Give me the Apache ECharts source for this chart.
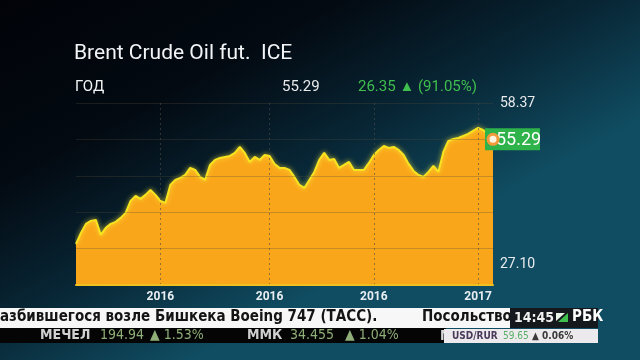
<!DOCTYPE html>
<html>
<head>
<meta charset="utf-8">
<script src="https://cdn.jsdelivr.net/npm/echarts@6/dist/echarts.min.js"></script>
<style>
  html, body { margin: 0; padding: 0; background: #02040a; }
  #main { width: 640px; height: 360px; }
</style>
</head>
<body>
<div id="main"></div>
<script>
// Brent, one year of closes (left to right)
var prices = [
    27.10, 30.06, 32.49, 33.30, 33.57, 29.53, 31.41, 32.49, 33.03, 34.11,
    35.46, 38.69, 40.04, 39.23, 40.31, 41.66, 40.31, 38.69, 38.15, 43.00,
    44.35, 44.89, 45.70, 47.59, 47.05, 45.16, 44.35, 48.39, 49.74, 50.28,
    50.55, 50.82, 51.63, 53.25, 51.63, 49.20, 50.55, 49.74, 51.09, 50.82,
    48.66, 47.59, 47.59, 47.05, 45.16, 43.00, 42.19, 44.35, 46.51, 49.74,
    51.63, 49.74, 50.01, 47.59, 48.39, 49.20, 47.05, 47.05, 47.05, 48.93,
    51.09, 52.44, 53.52, 52.98, 53.25, 52.44, 51.09, 48.66, 46.78, 45.70,
    45.16, 46.51, 48.12, 46.51, 51.90, 54.86, 55.40, 55.67, 56.21, 56.75,
    57.56, 58.37, 57.83, 56.75, 55.29
];

// подписи оси: только там, где на картинке стоит год
var yearLabels = { 17: '2016', 39: '2016', 60: '2016', 81: '2017' };
var categories = prices.map(function(p, i) { return yearLabels[i] || ''; });

var lastPrice = 55.29;
var changeAbs = '26.35';
var changePct = '(91.05%)';
var title = 'Brent Crude Oil fut.  ICE';
var period = 'ГОД';

var tickerNews = 'азбившегося возле Бишкека Boeing 747 (ТАСС).';
var tickerNext = 'Посольство';
var clock = '14:45';
var stockNames = ['МЕЧЕЛ', 'ММК'];
var stockPrices = ['194.94', '34.455'];
var stockChanges = ['▲ 1.53%', '▲ 1.04%'];
var fx = ['USD/RUR', '59.65', '▲ 0.06%'];

var chart = echarts.init(document.getElementById('main'));

var maxPrice = Math.max.apply(null, prices);
var minPrice = Math.min.apply(null, prices);
var lastIdx = prices.length - 1;

var font = 'Roboto, "Noto Sans", sans-serif';
var narrow = '"Liberation Sans Narrow", "DejaVu Sans Condensed", "Noto Sans", sans-serif';

function showYear(i, v) { return v !== ''; }

var option = {
    animation: false,
    backgroundColor: {
        type: 'linear', x: 0, y: 0, x2: 0.3, y2: 1,
        colorStops: [
            { offset: 0, color: '#010308' },
            { offset: 0.4, color: '#030a12' },
            { offset: 0.7, color: '#082635' },
            { offset: 1, color: '#104d62' }
        ]
    },
    grid: { left: 76, right: 147, top: 103, bottom: 75 },
    xAxis: {
        type: 'category',
        data: categories,
        boundaryGap: false,
        z: 3,
        axisTick: { show: false },
        axisLine: { lineStyle: { color: '#f0c020', width: 2 } },
        axisLabel: {
            interval: showYear,
            color: '#e8eef2',
            fontFamily: font,
            fontSize: 12,
            fontWeight: 'bold',
            margin: 6
        },
        splitLine: {
            show: true,
            interval: showYear,
            lineStyle: { color: 'rgba(80,75,70,0.6)', type: [2, 3], width: 1 }
        }
    },
    yAxis: {
        type: 'value',
        min: 16,
        max: 65.1,
        interval: 9.82,
        z: 3,
        axisLabel: { show: false },
        axisLine: { show: false },
        axisTick: { show: false },
        splitLine: { lineStyle: { color: 'rgba(85,75,55,0.3)', width: 1 } }
    },
    series: [{
        type: 'line',
        data: prices,
        z: 2,
        symbol: 'none',
        smooth: false,
        lineStyle: {
            color: '#f8e41e', width: 2,
            shadowColor: 'rgba(255,235,60,0.9)', shadowBlur: 5
        },
        areaStyle: { color: '#f9a61a', opacity: 1 },
        markPoint: {
            z: 6,
            silent: true,
            data: [{
                coord: [lastIdx, lastPrice],
                symbol: 'circle',
                symbolSize: 10,
                itemStyle: { color: '#fff4e0', borderColor: '#f39a3a', borderWidth: 3 },
                label: { show: false }
            }]
        }
    }],
    graphic: []
};

chart.setOption(option);

// зелёная плашка с последней ценой, к точке данных
var pt = chart.convertToPixel({ seriesIndex: 0 }, [lastIdx, lastPrice]);

var g = [
    // заголовок
    { type: 'text', left: 74, top: 43, style: { text: title, fill: '#f2f4f6', font: '21px ' + font } },
    { type: 'text', left: 75, top: 80, style: { text: period, fill: '#f2f4f6', font: '15px ' + font } },
    { type: 'text', left: 282, top: 80, style: { text: String(lastPrice), fill: '#e8eaec', font: '15px ' + font } },
    { type: 'text', left: 358, top: 80, style: { text: changeAbs + ' ▲ ' + changePct, fill: '#3fbf4e', font: '15px ' + font } },
    // макс / мин справа
    { type: 'text', left: 500, top: 96, style: { text: maxPrice.toFixed(2), fill: '#e8eaec', font: '14px ' + font } },
    { type: 'text', left: 500, top: 257, style: { text: minPrice.toFixed(2), fill: '#e8eaec', font: '14px ' + font } },
    {
        type: 'rect', z: 4,
        shape: { x: pt[0] - 8, y: pt[1] - 11, width: 55, height: 22 },
        style: { fill: '#2eb24a' }
    },
    {
        type: 'text', z: 5, x: pt[0] + 3, y: pt[1] + 1,
        style: { text: lastPrice.toFixed(2), fill: '#ffffff', font: '18px ' + font, textVerticalAlign: 'middle' }
    },

    // бегущая строка
    { type: 'rect', z: 7, shape: { x: 0, y: 308, width: 512, height: 20 }, style: { fill: '#f7f7f7' } },
    { type: 'text', z: 8, left: 0, top: 310, style: { text: tickerNews, fill: '#141414', font: 'bold 15px ' + narrow } },
    { type: 'text', z: 8, left: 422, top: 310, style: { text: tickerNext, fill: '#141414', font: 'bold 15px ' + narrow } },
    { type: 'rect', z: 9, shape: { x: 510, y: 308, width: 88, height: 20 }, style: { fill: '#15181c' } },
    { type: 'text', z: 10, left: 514, top: 311, style: { text: clock, fill: '#f0f0f0', font: 'bold 14px ' + narrow } },
    { type: 'polygon', z: 10, shape: { points: [[558, 322], [568, 313], [568, 322]] }, style: { fill: '#3fbf4e' } },
    { type: 'polygon', z: 10, shape: { points: [[556, 321], [556, 313], [565, 313]] }, style: { fill: '#e8f5e8' } },
    { type: 'text', z: 10, left: 572, top: 310, style: { text: 'РБК', fill: '#ffffff', font: 'bold 15px ' + narrow } },

    { type: 'rect', z: 7, shape: { x: 0, y: 328, width: 446, height: 15 }, style: { fill: '#050505' } },
    { type: 'text', z: 8, left: 440, top: 329, style: { text: 'М', fill: '#d8d8d8', font: 'bold 14px ' + narrow } },
    { type: 'rect', z: 9, shape: { x: 444, y: 329, width: 154, height: 14 }, style: { fill: '#eceaec' } },
    { type: 'text', z: 10, left: 452, top: 331, style: { text: fx[0], fill: '#4a3a5a', font: 'bold 10px ' + narrow } },
    { type: 'text', z: 10, left: 503, top: 331, style: { text: fx[1], fill: '#58b068', font: '10px ' + narrow } },
    { type: 'text', z: 10, left: 532, top: 331, style: { text: fx[2], fill: '#3a3a3a', font: 'bold 10px ' + narrow } }
];

// котировки в нижней строке
var nameX = [40, 247];
var priceX = [100, 290];
var changeX = [150, 345];
stockNames.forEach(function(name, i) {
    g.push({ type: 'text', z: 8, left: nameX[i], top: 328, style: { text: name, fill: '#d0d0d0', font: 'bold 14px ' + narrow } });
    g.push({ type: 'text', z: 8, left: priceX[i], top: 328, style: { text: stockPrices[i], fill: '#8fae78', font: '14px ' + narrow } });
    g.push({ type: 'text', z: 8, left: changeX[i], top: 328, style: { text: stockChanges[i], fill: '#8fae78', font: '14px ' + narrow } });
});

chart.setOption({ graphic: g });
</script>
</body>
</html>
